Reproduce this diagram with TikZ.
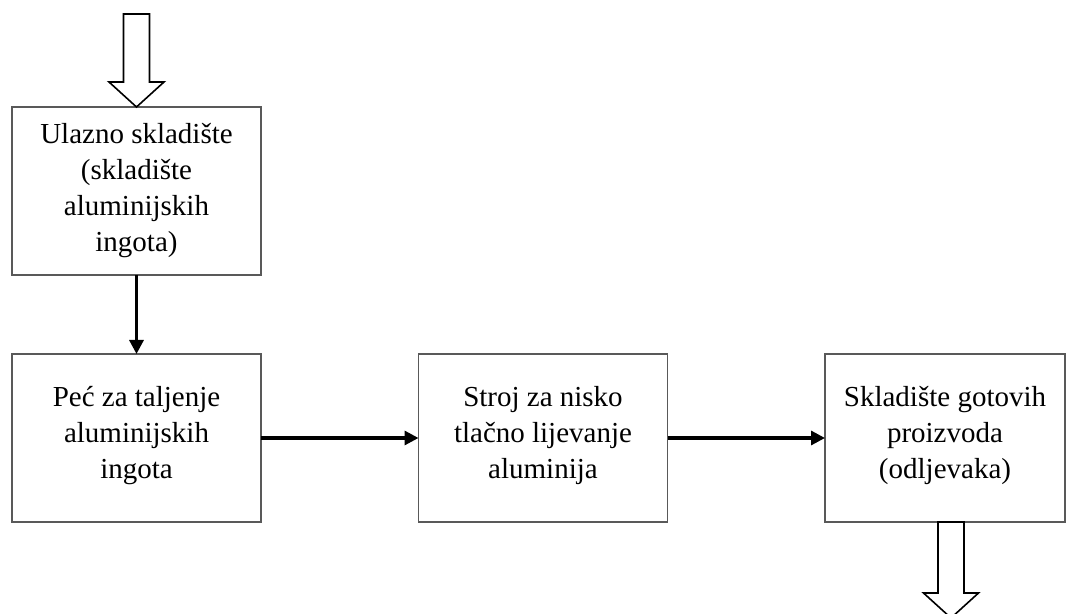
\documentclass[tikz,border=0pt]{standalone}
\usepackage{fontspec}
\setmainfont{Liberation Serif}
\usetikzlibrary{arrows.meta}
\tikzstyle{blok}=[draw=black!65, line width=0.9pt, inner sep=0pt, outer sep=0pt, minimum width=124.5pt, minimum height=84pt, align=center, font=\fontsize{14.5}{18}\selectfont]
\tikzstyle{tok}=[line width=1.6pt, -{Triangle[length=7pt, width=7pt]}]
\tikzstyle{prazna}=[draw=black, line width=0.8pt, fill=white]

\begin{document}
\begin{tikzpicture}[x=0.5pt, y=-0.5pt]
    \useasboundingbox (0,0) rectangle (1066,614);
% Boxes
    \node[blok] (ulaz) at (136.5,191) {Ulazno skladište\\(skladište\\aluminijskih\\ingota)};
    \node[blok] (pec) at (136.5,438) {Peć za taljenje\\aluminijskih\\ingota\\[-12pt]};
    \node[blok] (stroj) at (543,438) {Stroj za nisko\\tlačno lijevanje\\aluminija\\[-12pt]};
    \node[blok, minimum width=120pt] (skladiste) at (945,438) {Skladište gotovih\\proizvoda\\(odljevaka)\\[-12pt]};
% Flow between boxes
    \draw[tok] (ulaz) -- (pec);
    \draw[tok] (pec) -- (stroj);
    \draw[tok] (stroj) -- (skladiste);
% Hollow arrows in and out
    \coordinate (dovod) at (136.5,14);
    \coordinate (odvod) at (951,522);
    \draw[prazna] (dovod) -- ++(13,0) -- ++(0,68) -- ++(14.5,0) -- ++(-27.5,25)
        -- ++(-27.5,-25) -- ++(14.5,0) -- ++(0,-68) -- cycle;
    \draw[prazna] (odvod) -- ++(13,0) -- ++(0,71) -- ++(14.5,0) -- ++(-27.5,25)
        -- ++(-27.5,-25) -- ++(14.5,0) -- ++(0,-71) -- cycle;
\end{tikzpicture}
\end{document}
